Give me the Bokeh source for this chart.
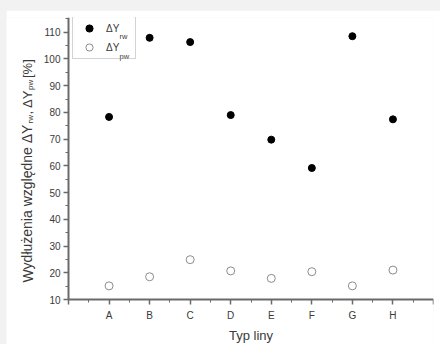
from bokeh.plotting import figure
from bokeh.models import (Range1d, FixedTicker, Legend, LegendItem, Label)
from bokeh.layouts import column
from bokeh.embed import file_html
from bokeh.resources import INLINE

categories = ["A", "B", "C", "D", "E", "F", "G", "H"]
dy_rw = [78.3, 107.9, 106.3, 79.0, 69.8, 59.2, 108.5, 77.4]
dy_pw = [15.1, 18.5, 24.9, 20.7, 17.9, 20.4, 15.1, 21.0]
y_ticks = [10, 20, 30, 40, 50, 60, 70, 80, 90, 100, 110]
x_title = "Typ liny"

xs = list(range(1, len(categories) + 1))
x_end = len(categories) + 1
y_lo, y_hi = 10, 115.5

FONT = "Liberation Sans"
AX = "#6a6a6a"
TXT = "#3a3a3a"

# The frame covers the canvas to the left and bottom so that the titles (built
# from several text pieces for their subscripts) lie inside it; both axes are
# drawn at fixed data locations (x = 0, y = 10).
W, H = 434, 334
TOP, RIGHT = 7, 7
FRAME_W, FRAME_H = W - RIGHT, H - TOP
AXIS_X_OFF = 62      # px from frame left to the y axis
AXIS_Y_OFF = 45      # px from frame bottom to the x axis
x_start = -AXIS_X_OFF * x_end / (FRAME_W - AXIS_X_OFF)
y_start = y_lo - AXIS_Y_OFF * (y_hi - y_lo) / (FRAME_H - AXIS_Y_OFF)

p = figure(width=W, height=H, output_backend="svg", toolbar_location=None,
           x_range=Range1d(x_start, x_end), y_range=Range1d(y_start, y_hi),
           min_border_left=0, min_border_right=RIGHT, min_border_top=TOP, min_border_bottom=0,
           background_fill_color="white", border_fill_color="white")
p.margin = (10, 0, 0, 6)
p.outline_line_color = None
p.grid.visible = False

r1 = p.scatter(xs, dy_rw, size=7, marker="circle", fill_color="black", line_color="black")
r2 = p.scatter(xs, dy_pw, size=8, marker="circle", fill_color=None, line_color="#8c8c8c", line_width=1)

xa = p.xaxis[0]
xa.ticker = FixedTicker(ticks=list(range(0, x_end + 1)),
                        minor_ticks=[i + 0.5 for i in range(0, x_end)])
overrides = {i: "" for i in range(0, x_end + 1)}
overrides.update({i + 1: c for i, c in enumerate(categories)})
xa.major_label_overrides = overrides
xa.bounds = (0, x_end)
xa.fixed_location = y_lo

ya = p.yaxis[0]
ya.ticker = FixedTicker(ticks=y_ticks, minor_ticks=[t + 5 for t in y_ticks])
ya.bounds = (y_lo, y_hi)
ya.fixed_location = 0

for a in (xa, ya):
    a.axis_line_color = AX
    a.axis_line_width = 2
    a.major_tick_line_color = AX
    a.minor_tick_line_color = AX
    a.major_tick_line_width = 1.5
    a.major_tick_out = 5
    a.major_tick_in = 0
    a.minor_tick_out = 3
    a.minor_tick_in = 0
    a.major_label_text_font = FONT
    a.major_label_text_font_size = "10px"
    a.major_label_text_color = TXT
xa.major_label_standoff = 5
ya.major_label_standoff = 3

legend = Legend(items=[LegendItem(label="ΔY", renderers=[r1]),
                       LegendItem(label="ΔY", renderers=[r2])],
                location=(66, 285), padding=2, spacing=1, glyph_width=28, glyph_height=18,
                label_standoff=3, label_width=27, margin=0,
                label_text_font=FONT, label_text_font_size="10px", label_text_color=TXT,
                border_line_color="#a8a8a8", border_line_width=1, background_fill_alpha=0)
p.add_layout(legend)

# legend subscripts (frame-relative screen units)
for txt, yy in (("rw", 308), ("pw", 288.5)):
    p.add_layout(Label(x=113, y=yy, x_units="screen", y_units="screen", text=txt,
                       text_font=FONT, text_font_size="7.5px", text_color=TXT,
                       text_baseline="alphabetic"))

# x title
p.add_layout(Label(x=244.5, y=9, x_units="screen", y_units="screen", text=x_title,
                   text_font=FONT, text_font_size="13px", text_color=TXT,
                   text_align="center", text_baseline="middle"))

# y title pieces (rotated), frame-relative screen units
pieces = [("Wydłużenia względne ΔY", "14px", 21, 62),
          ("rw", "8px", 24, 221),
          (", ΔY", "13px", 21, 230),
          ("pw", "8px", 24, 254.5),
          ("[%]", "13px", 21, 266.5)]
for txt, fs, sx, sy in pieces:
    p.add_layout(Label(x=sx, y=sy, x_units="screen", y_units="screen", text=txt,
                       angle=1.5708, text_font=FONT, text_font_size=fs, text_color=TXT,
                       text_baseline="alphabetic"))

layout = column(p, styles={"background-color": "#f2f2f2"})
open("out.html", "w").write(file_html(layout, INLINE))
